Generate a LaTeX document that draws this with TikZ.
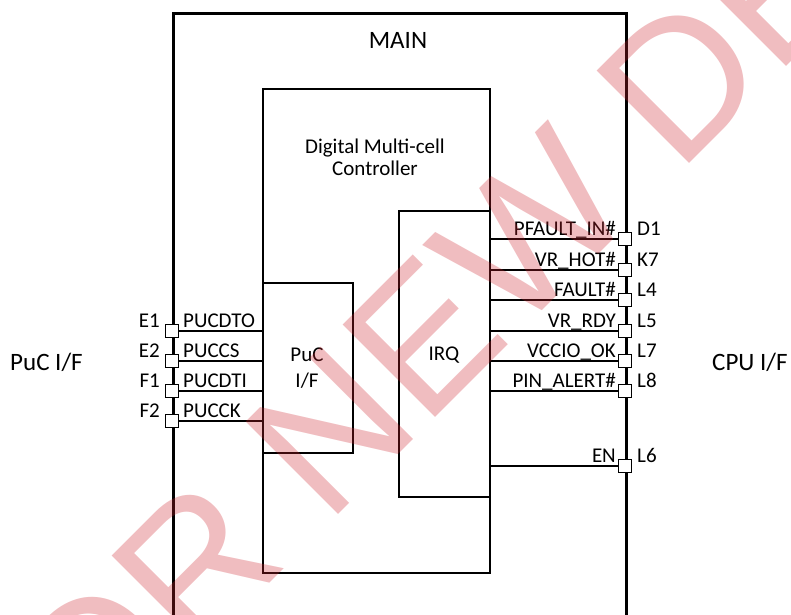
\documentclass[tikz,border=0pt]{standalone}
\usepackage{fontspec}
\setmainfont{Carlito}
\newfontfamily\wmfont{Liberation Sans}
\usepackage{xcolor}
\definecolor{cLine}{HTML}{000000}
\definecolor{cMark}{RGB}{205,35,45}
\usetikzlibrary{positioning,calc}
\tikzset{
  box-main/.style={draw=cLine,line width=3.2pt,anchor=north west,inner sep=0pt,
    minimum width=453pt,minimum height=720pt},
  box-block/.style={draw=cLine,line width=1.5pt,anchor=north west,inner sep=0pt},
  pin-pad/.style={draw=cLine,fill=white,line width=1.4pt,rectangle,
    minimum size=13pt,inner sep=0pt},
  sig-line/.style={draw=cLine,line width=1.5pt},
  lbl/.style={inner sep=0pt,font=\fontsize{21}{25}\selectfont},
  lbl-big/.style={inner sep=0pt,font=\fontsize{25}{30}\selectfont},
  % watermark over the whole sheet
  wm-text/.style={anchor=base west,rotate=45,inner sep=0pt,text=cMark,
    text opacity=0.3,font=\wmfont\fontsize{190}{190}\selectfont},
}

\begin{document}
\begin{tikzpicture}[x=1pt,y=-1pt]
  \clip (0,0) rectangle (791,614);
  \node[box-main] (main) at (172,12) {};
  \node[lbl-big,anchor=base] (main-lbl) at (398,48) {MAIN};
  \node[box-block,minimum width=227pt,minimum height=484pt] (dmc) at (262,88) {};
  \node[lbl,align=center,font=\fontsize{21}{22}\selectfont] (dmc-lbl) at (375,157) {Digital Multi-cell\\Controller};
  \node[box-block,minimum width=90pt,minimum height=170pt] (pucif) at (262,282) {};
  \node[lbl,align=center,font=\fontsize{21}{26}\selectfont] (pucif-lbl) at (307,368) {PuC\\I/F};
  \node[box-block,minimum width=91pt,minimum height=286pt] (irq) at (398,210) {};
  \node[lbl] (irq-lbl) at (444,355) {IRQ};
  \node[lbl-big,anchor=base west] (puc-side) at (10,370) {PuC I/F};
  \node[lbl-big,anchor=base west] (cpu-side) at (712,370) {CPU I/F};

  % PuC side pins
  \foreach \y/\pin/\sig in {331/E1/PUCDTO,361/E2/PUCCS,391/F1/PUCDTI,421/F2/PUCCK}{
    \node[pin-pad] (pin-\pin) at (172,\y) {};
    \draw[sig-line] (pin-\pin.east) -- (pin-\pin.east -| pucif.west);
    \node[lbl,anchor=base east] at ($(pin-\pin)+(-12,-4)$) {\pin};
    \node[lbl,anchor=base west] at ($(pin-\pin)+(11,-4)$) {\sig};
  }

  % CPU side pins
  \foreach \y/\pin/\sig in {239/D1/PFAULT\_IN\#,270/K7/VR\_HOT\#,300/L4/FAULT\#,
      331/L5/VR\_RDY,361/L7/VCCIO\_OK,391/L8/PIN\_ALERT\#,466/L6/EN}{
    \node[pin-pad] (pin-\pin) at (625,\y) {};
    \draw[sig-line] (irq.east |- pin-\pin) -- (pin-\pin.west);
    \node[lbl,anchor=base east] at ($(pin-\pin)+(-9,-4)$) {\sig};
    \node[lbl,anchor=base west] at ($(pin-\pin)+(12,-4)$) {\pin};
  }

  \node[wm-text] (wm) at (6.5,846.5) {FOR NEW DESIGN};
\end{tikzpicture}
\end{document}
